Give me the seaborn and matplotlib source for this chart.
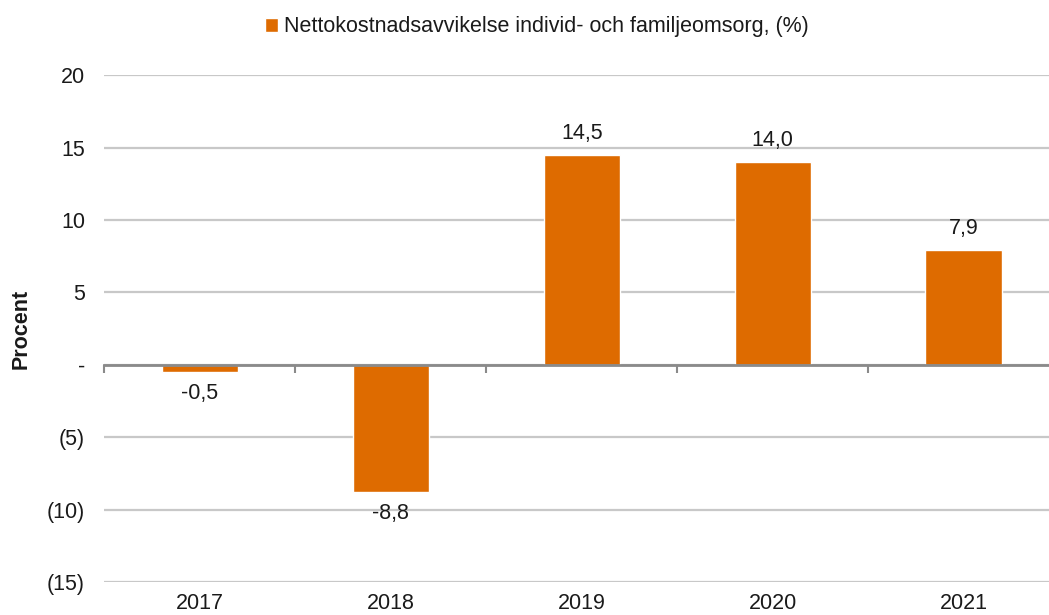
import matplotlib
matplotlib.use("Agg")
import matplotlib.pyplot as plt
import matplotlib.ticker as mticker
import seaborn as sns
import pandas as pd

years = ["2017", "2018", "2019", "2020", "2021"]
values = [-0.5, -8.8, 14.5, 14.0, 7.9]
series_name = "Nettokostnadsavvikelse individ- och familjeomsorg, (%)"
y_ticks = [-15, -10, -5, 0, 5, 10, 15, 20]

sns.set_theme(style="white")
plt.rcParams['font.family'] = ['Liberation Sans', 'DejaVu Sans']

bar_color = "#DE6B00"
text_color = "#1a1a1a"
fs = 15.5

fig = plt.figure(figsize=(10.49, 6.15), dpi=100)
ax = fig.add_axes([0.0996, 0.0537, 0.910, 0.824])

df = pd.DataFrame({"year": years, "value": values})
sns.barplot(data=df, x="year", y="value", color=bar_color, width=0.4,
            saturation=1, ax=ax, label=series_name)
if ax.get_legend() is not None:
    ax.get_legend().remove()

ax.set_ylim(-15, 20)
ax.set_xlim(-0.5, len(years) - 0.5)
ax.set_yticks(y_ticks)

def fmt(v, pos):
    v = int(round(v))
    if v == 0:
        return "-"
    if v < 0:
        return f"({-v})"
    return f"{v}"

ax.yaxis.set_major_formatter(mticker.FuncFormatter(fmt))
ax.yaxis.grid(True, color="#C8C8C8", linewidth=1.6)
ax.set_axisbelow(True)
for s in ["top", "right", "left"]:
    ax.spines[s].set_visible(False)
ax.spines["bottom"].set_position(("data", 0))
ax.spines["bottom"].set_color("#8A8A8A")
ax.spines["bottom"].set_linewidth(2)
ax.spines["bottom"].set_zorder(3)

ax.set_xticks(range(len(years)))
ax.set_xticks([i - 0.5 for i in range(len(years) + 1)], minor=True)
ax.tick_params(axis="x", which="major", length=0, pad=164, labelsize=fs,
               labelcolor=text_color)
ax.tick_params(axis="x", which="minor", length=6, width=1.5, color="#8A8A8A",
               direction="out", bottom=True)
ax.tick_params(axis="y", length=0, pad=14, labelsize=fs, labelcolor=text_color)

ax.set_xlabel("")
ax.set_ylabel("Procent", fontsize=fs, fontweight="bold", color=text_color,
              labelpad=11)

for c in ax.containers:
    ax.bar_label(c, labels=[f"{v:.1f}".replace(".", ",") for v in values],
                 padding=8, fontsize=fs, color=text_color)

handles, labels = ax.get_legend_handles_labels()
fig.legend(handles, labels, loc="upper center", bbox_to_anchor=(0.512, 1.005),
           frameon=False, fontsize=fs, handlelength=0.6, handleheight=0.6,
           handletextpad=0.3, labelcolor=text_color)

fig.savefig("out.png", dpi=100)
